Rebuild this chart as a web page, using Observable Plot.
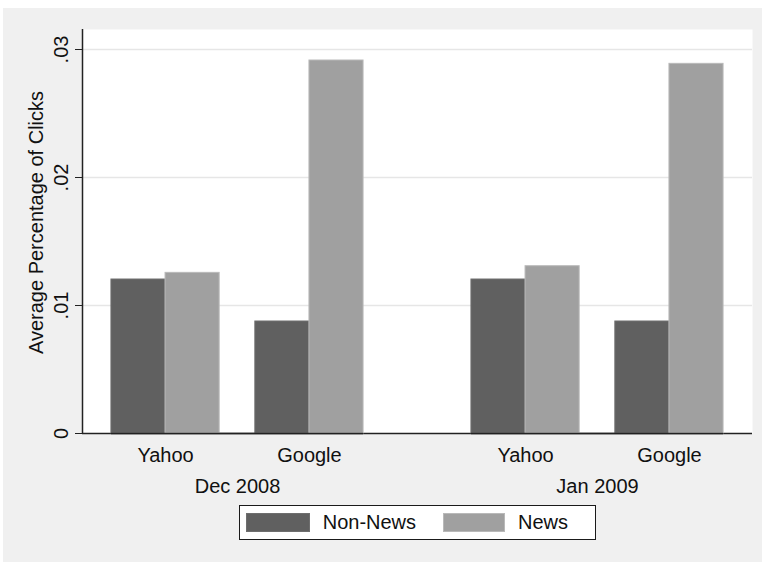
<!DOCTYPE html>
<html><head><meta charset="utf-8">
<script src="https://cdn.jsdelivr.net/npm/d3@7"></script>
<script src="https://cdn.jsdelivr.net/npm/@observablehq/plot@0.6"></script>
<style>
html,body{margin:0;padding:0;background:#fff;width:762px;height:562px;overflow:hidden;}
#bg{position:absolute;left:3px;top:8px;width:759px;height:554px;background:#f0f0f0;}
.layer{position:absolute;left:0;top:0;}
#legend{position:absolute;left:239px;top:505px;width:357px;height:35px;box-sizing:border-box;border:1.5px solid #1a1a1a;background:#fff;
  font:20px "Liberation Sans", Arial, sans-serif;color:#111;display:flex;align-items:center;padding-left:6px;}
.sw{width:73px;height:19px;box-sizing:border-box;margin-right:13px;}
.lab{margin-right:27px;white-space:nowrap;}
</style></head><body>
<div id="bg"></div>
<div id="under" class="layer"></div>
<div id="over" class="layer"></div>
<div id="legend"></div>
<script>
// ---- data ----
const months = ["Dec 2008", "Jan 2009"];
const engines = ["Yahoo", "Google"];
const seriesNames = ["Non-News", "News"];
// order: Dec Yahoo, Dec Google, Jan Yahoo, Jan Google
const nonNewsValues = [0.01203, 0.00875, 0.01203, 0.00875];
const newsValues = [0.01255, 0.02914, 0.01307, 0.02888];
const yTicks = [0, 0.01, 0.02, 0.03];
const yTitle = "Average Percentage of Clicks";

// ---- styles ----
const colors = ["#606060", "#a0a0a0"];
const strokes = ["#6e6e6e", "#b9b9b9"];
const FONT = '"Liberation Sans", Arial, sans-serif';
const W = 762, H = 500, ML = 82, MR = 10, MT = 29, MB = 67;
const yMax = 0.03 * (433 - MT) / (433 - 49);
const fxPadIn = 0.2997, fxPadOut = 0.0804, xPadIn = 0.248;

const rows = [];
months.forEach((m, i) => engines.forEach((e, j) => {
  const k = i * engines.length + j;
  rows.push({month: m, engine: e, series: seriesNames[0], value: nonNewsValues[k]});
  rows.push({month: m, engine: e, series: seriesNames[1], value: newsValues[k]});
}));

const fxB = d3.scaleBand(months, [ML, W - MR]).paddingInner(fxPadIn).paddingOuter(fxPadOut);
const xB = d3.scaleBand(engines, [0, fxB.bandwidth()]).paddingInner(xPadIn).paddingOuter(0);
const half = xB.bandwidth() / 2;

const fmt = d => d === 0 ? "0" : d3.format(".2f")(d).replace(/^0/, "");

const common = {width: W, height: H, marginLeft: ML, marginRight: MR, marginTop: MT, marginBottom: MB,
  style: {background: "transparent", fontFamily: FONT, fontSize: "20px", color: "#111", overflow: "visible"}};

const under = Plot.plot({
  ...common,
  x: {domain: [0, 1], axis: null},
  y: {domain: [0, yMax], axis: null},
  marks: [
    Plot.frame({fill: "#fff", stroke: "none"}),
    Plot.gridY(yTicks.filter(d => d > 0), {stroke: "#e6e6e6", strokeOpacity: 1, strokeWidth: 1.5}),
    Plot.ruleY([0], {stroke: "#222", strokeWidth: 1.5}),
    Plot.ruleX([0], {stroke: "#222", strokeWidth: 1.5}),
    Plot.axisY(yTicks, {tickFormat: fmt, tickRotate: -90, tickSize: 7, tickPadding: 8, label: null, stroke: "#222", fill: "#111"}),
    Plot.text([yTitle], {text: d => d, frameAnchor: "left", textAnchor: "middle", rotate: -90, dx: -46, dy: -9, fill: "#111"})
  ]
});
document.getElementById("under").append(under);

const over = Plot.plot({
  ...common,
  fx: {domain: months, paddingInner: fxPadIn, paddingOuter: fxPadOut, round: false},
  x: {domain: engines, paddingInner: xPadIn, paddingOuter: 0, round: false},
  y: {domain: [0, yMax], axis: null},
  color: {domain: seriesNames, range: colors},
  marks: [
    Plot.barY(rows, {filter: d => d.series === seriesNames[0], fx: "month", x: "engine", y: "value", fill: "series", stroke: strokes[0], strokeWidth: 1, insetRight: half}),
    Plot.barY(rows, {filter: d => d.series === seriesNames[1], fx: "month", x: "engine", y: "value", fill: "series", stroke: strokes[1], strokeWidth: 1, insetLeft: half}),
    Plot.ruleY([0], {stroke: "#222", strokeWidth: 1.5}),
    Plot.axisX({anchor: "bottom", tickSize: 0, tickPadding: 14, label: null, fill: "#111"}),
    Plot.axisFx({anchor: "bottom", tickSize: 0, tickPadding: 45, label: null, fill: "#111"})
  ]
});
document.getElementById("over").append(over);

// legend
const leg = document.getElementById("legend");
seriesNames.forEach((s, i) => {
  const sw = document.createElement("span");
  sw.className = "sw";
  sw.style.background = colors[i];
  sw.style.border = "1px solid " + strokes[i];
  if (i === 1) sw.style.width = "71px";
  const lab = document.createElement("span");
  lab.className = "lab";
  lab.textContent = s;
  leg.append(sw, lab);
});
</script>
</body></html>
